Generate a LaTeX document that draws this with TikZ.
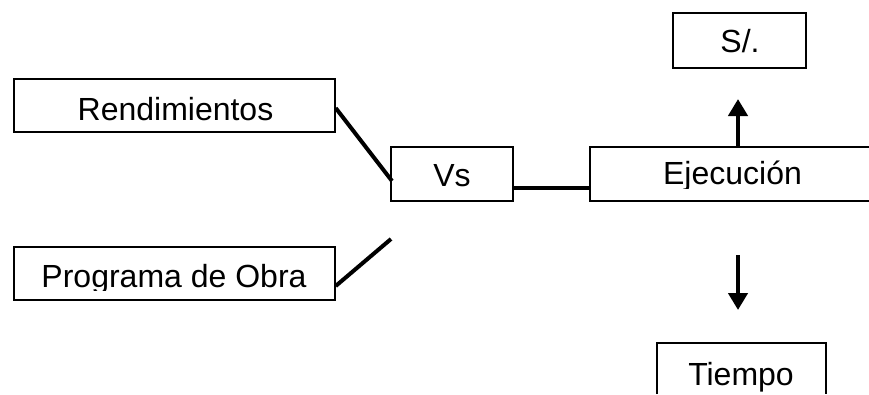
\documentclass[tikz,border=0pt]{standalone}
\usepackage{fontspec}
\setmainfont{Liberation Sans}
\usetikzlibrary{arrows.meta}
\begin{document}
\begin{tikzpicture}[x=1pt,y=-1pt,
  boxline/.style={line width=1.4pt},
  txt/.style={font=\fontsize{32}{32}\selectfont, inner sep=0pt, anchor=base},
  conn/.style={line width=4pt},
  bigarrow/.style={line width=4.5pt, -{Triangle[width=19pt,length=17pt]}}]
\useasboundingbox (0,0) rectangle (869,394);
% boxes
\node[boxline, draw, minimum width=321pt, minimum height=53pt, inner sep=0pt] (rend) at (174.5,105.5) {};
\node[boxline, draw, minimum width=321pt, minimum height=53pt, inner sep=0pt] (prog) at (174.5,273.5) {};
\node[boxline, draw, minimum width=122pt, minimum height=54pt, inner sep=0pt] (vs) at (452,174) {};
\node[boxline, draw, minimum width=133pt, minimum height=55pt, inner sep=0pt] (sol) at (739.5,40.5) {};
% Ejecucion box (open on the right)
\coordinate (ejtl) at (590,147);
\coordinate (ejbl) at (590,201);
\draw[boxline] (869,147) -- (ejtl) -- (ejbl) -- (869,201);
% Tiempo box (cut at bottom)
\coordinate (titl) at (657,343);
\coordinate (titr) at (826,343);
\draw[boxline] (657,394) -- (titl) -- (titr) -- (826,394);
% texts
\node[txt] (trend) at (175.5,120) {Rendimientos};
\node[txt] (tvs) at (452,186) {Vs};
\node[txt] (tsol) at (740,52) {S/.};
\begin{scope}
\clip (14,240) rectangle (335,290);
\node[txt] (tprog) at (174,287) {Programa de Obra};
\end{scope}
\begin{scope}
\clip (590,150) rectangle (869,188);
\node[txt] (tej) at (732.5,184) {Ejecución};
\end{scope}
\node[txt] (tti) at (741,385) {Tiempo};
% connectors
\coordinate (c1) at (392,181);
\coordinate (c2) at (391,239);
\draw[conn] (rend.east |- 0,108) -- (c1);
\draw[conn] (prog.east |- 0,286) -- (c2);
\draw[conn] (vs.east |- 0,188) -- (590,188);
% arrows
\coordinate (up0) at (738,147);
\coordinate (up1) at (738,99);
\draw[bigarrow] (up0) -- (up1);
\coordinate (dn0) at (738,255);
\coordinate (dn1) at (738,310);
\draw[bigarrow] (dn0) -- (dn1);
\end{tikzpicture}
\end{document}
